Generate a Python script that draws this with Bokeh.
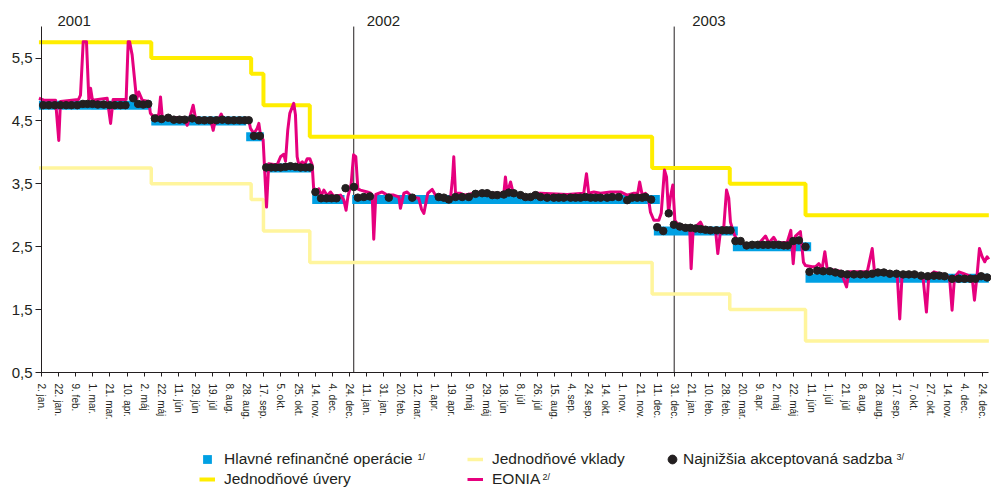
from bokeh.plotting import figure
from bokeh.models import (FixedTicker, CustomJSTickFormatter, Label, Legend,
                          LegendItem, Range1d)
from bokeh.embed import file_html
from bokeh.resources import INLINE

# ---------------- data ----------------
tick_labels = [
    "2. jan.", "22. jan.", "9. feb.", "1. mar.", "21. mar.", "10. apr.", "2. máj", "22. máj",
    "11. jún", "29. jún", "19. júl", "8. aug.", "28. aug.", "17. sep.", "5. okt.", "25. okt.",
    "14. nov.", "4. dec.", "24. dec.",
    "11. jan.", "31. jan.", "20. feb.", "12. mar.", "1. apr.", "19. apr.", "9. máj", "29. máj",
    "18. jún", "8. júl", "26. júl", "15. aug.", "4. sep.", "24. sep.", "14. okt.", "1. nov.",
    "21. nov.", "11. dec.", "31. dec.",
    "21. jan.", "10. feb.", "28. feb.", "20. mar.", "9. apr.", "2. máj", "22. máj", "11. jún",
    "1. júl", "21. júl", "8. aug.", "28. aug.", "17. sep.", "7. okt.", "27. okt.", "14. nov.",
    "4. dec.", "24. dec.",
]
y_ticks = [0.5, 1.5, 2.5, 3.5, 4.5, 5.5]
y_axis_bounds = (0.5, 6.0)

years = ["2001", "2002", "2003"]
year_start = [0.0, 18.26, 37.0]

# standing facilities (step changes)
rate_change = [-0.15, 6.42, 12.26, 12.98, 15.69, 35.71, 40.25, 44.68, 55.4]
lending_rate = [5.75, 5.50, 5.25, 4.75, 4.25, 3.75, 3.50, 3.00, 3.00]
deposit_rate = [3.75, 3.50, 3.25, 2.75, 2.25, 1.75, 1.50, 1.00, 1.00]

# main refinancing operations rate
mro_start = [-0.15, 6.42, 11.97, 13.00, 15.83, 18.17, 35.81, 40.43, 44.68]
mro_end = [6.42, 11.97, 13.00, 15.83, 17.72, 36.16, 40.72, 45.01, 55.4]
mro_rate = [4.75, 4.50, 4.25, 3.75, 3.25, 3.25, 2.75, 2.50, 2.00]

# EONIA
eonia_pos = [
    -0.15, 0.14, 0.82, 1.01, 1.11, 2.16, 2.28, 2.44, 2.63, 2.77,
    2.87, 2.98, 3.84, 4.04, 4.19, 4.95, 5.07, 5.15, 5.30, 5.56,
    5.69, 5.89, 6.27, 6.37, 6.57, 6.86, 6.96, 7.06, 8.32, 8.52,
    8.67, 8.87, 9.00, 9.30, 9.88, 10.04, 10.18, 10.37, 10.51, 10.63,
    12.12, 12.22, 12.42, 12.61, 12.71, 12.81, 12.96, 13.16, 13.29, 13.78,
    13.98, 14.17, 14.27, 14.40, 14.52, 14.75, 14.85, 14.95, 15.05, 15.25,
    15.38, 15.54, 15.69, 15.83, 15.92, 16.08, 16.22, 16.36, 16.51, 16.71,
    16.90, 17.09, 17.49, 17.68, 17.81, 17.92, 18.11, 18.25, 18.38, 18.50,
    18.65, 19.05, 19.25, 19.34, 19.43, 19.55, 19.92, 20.22, 20.60, 20.90,
    20.99, 21.19, 21.38, 21.68, 22.06, 22.22, 22.36, 22.59, 22.85, 23.04,
    23.33, 23.72, 23.92, 24.04, 24.11, 24.21, 24.50, 24.70, 25.28, 25.67,
    26.06, 26.84, 27.04, 27.13, 27.23, 27.43, 27.59, 28.01, 28.40, 28.50,
    28.79, 29.18, 30.74, 31.71, 31.87, 32.00, 32.30, 32.69, 33.27, 33.86,
    34.25, 34.64, 34.87, 34.98, 35.13, 35.32, 35.51, 35.61, 35.81, 36.10,
    36.24, 36.43, 36.55, 36.67, 36.78, 36.92, 37.04, 37.17, 37.76, 37.91,
    37.99, 38.11, 38.54, 38.73, 39.42, 39.55, 39.71, 39.90, 40.06, 40.19,
    40.29, 40.49, 40.68, 40.88, 41.95, 42.34, 42.53, 42.82, 43.02, 43.61,
    43.82, 43.96, 44.09, 44.38, 44.56, 44.68, 45.07, 45.26, 45.46, 45.65,
    45.81, 45.95, 46.33, 46.73, 47.08, 47.21, 47.70, 48.29, 48.58, 48.71,
    49.06, 49.65, 50.04, 50.19, 50.33, 50.78, 51.35, 51.56, 51.75, 51.89,
    52.19, 52.57, 52.96, 53.11, 53.25, 53.39, 53.65, 53.94, 54.23, 54.42,
    54.56, 54.72, 54.85, 55.01, 55.16, 55.30, 55.40,
]
eonia_rate = [
    4.86, 4.83, 4.83, 4.19, 4.81, 4.84, 4.91, 5.76, 5.76, 4.83,
    5.02, 4.83, 4.86, 4.46, 4.84, 4.84, 5.76, 5.76, 5.55, 4.84,
    4.96, 4.83, 4.81, 4.62, 4.56, 4.60, 4.88, 4.56, 4.55, 4.43,
    4.55, 4.75, 4.55, 4.54, 4.53, 4.35, 4.53, 4.53, 4.61, 4.53,
    4.52, 4.38, 4.30, 4.38, 4.46, 4.27, 4.20, 3.13, 3.82, 3.80,
    3.93, 3.97, 3.86, 4.35, 4.62, 4.78, 4.60, 3.93, 3.80, 3.85,
    3.80, 3.90, 3.90, 3.80, 3.40, 3.35, 3.42, 3.31, 3.40, 3.31,
    3.37, 3.30, 3.32, 3.24, 3.08, 3.30, 3.50, 3.96, 3.93, 3.42,
    3.40, 3.37, 3.35, 3.32, 2.62, 3.33, 3.37, 3.32, 3.32, 3.29,
    3.11, 3.35, 3.37, 3.29, 3.27, 3.10, 3.03, 3.35, 3.41, 3.32,
    3.29, 3.26, 3.27, 3.60, 3.93, 3.35, 3.35, 3.32, 3.35, 3.37,
    3.35, 3.35, 3.35, 3.61, 3.35, 3.53, 3.35, 3.32, 3.30, 3.26,
    3.35, 3.35, 3.33, 3.35, 3.66, 3.35, 3.37, 3.35, 3.37, 3.37,
    3.32, 3.35, 3.35, 3.53, 3.32, 3.35, 3.24, 3.05, 2.92, 2.92,
    3.03, 3.72, 3.61, 3.03, 3.29, 3.48, 2.92, 2.87, 2.81, 2.76,
    2.15, 2.78, 2.89, 2.78, 2.76, 2.39, 2.76, 2.81, 3.40, 3.27,
    2.89, 2.71, 2.60, 2.55, 2.55, 2.67, 2.56, 2.65, 2.56, 2.57,
    2.76, 2.23, 2.67, 2.74, 2.25, 2.20, 2.18, 2.18, 2.23, 2.15,
    2.42, 2.14, 2.13, 2.11, 1.86, 2.10, 2.10, 2.10, 2.47, 2.11,
    2.10, 2.10, 2.07, 1.35, 2.07, 2.07, 2.04, 1.99, 1.46, 2.04,
    2.10, 2.07, 2.04, 1.99, 1.49, 2.01, 2.10, 2.07, 2.04, 2.02,
    1.65, 2.07, 2.47, 2.34, 2.26, 2.34, 2.30,
]

# lowest accepted (marginal) rate of the weekly tenders
tender_pos = [
    0.10, 0.43, 0.78, 1.11, 1.44, 1.75, 2.09, 2.42, 2.69, 2.98,
    3.29, 3.64, 3.98, 4.29, 4.62, 4.91, 5.36, 5.65, 5.95, 6.24,
    6.63, 7.02, 7.41, 7.74, 8.07, 8.38, 8.81, 9.20, 9.53, 9.88,
    10.23, 10.57, 10.92, 11.25, 11.58, 11.89, 12.12, 12.42, 12.77,
    13.14, 13.43, 13.68, 13.98, 14.27, 14.56, 14.85, 15.15, 15.44, 15.69,
    16.02, 16.35, 16.67, 16.96, 17.25, 17.78, 18.27, 18.50, 18.85, 19.20,
    20.31, 21.68,
    23.23, 23.53, 23.82, 24.21, 24.60, 24.99, 25.38, 25.77, 26.06, 26.36,
    26.65, 27.04, 27.33, 27.62, 28.01, 28.30, 28.60, 28.89, 29.18, 29.57,
    29.96, 30.25, 30.54, 30.94, 31.23, 31.52, 31.81, 32.11, 32.40, 32.69,
    33.08, 33.37, 33.76, 34.25, 34.54, 34.84, 35.13, 35.32, 35.65,
    36.01, 36.36, 36.68, 36.98, 37.33, 37.66, 37.95, 38.25, 38.54, 38.83,
    39.12, 39.47, 39.81, 40.06, 40.29,
    40.58, 40.88, 41.23, 41.56, 41.89, 42.20, 42.49, 42.82, 43.12, 43.41,
    43.64, 43.96, 44.29, 44.68,
    44.91, 45.36, 45.71, 46.10, 46.43, 46.77, 47.12, 47.51, 47.89, 48.25,
    48.58, 48.91, 49.26, 49.61, 50.00, 50.39, 50.72, 51.05, 51.44, 51.83,
    52.19, 52.51, 52.81, 53.25, 53.64, 53.98, 54.33, 54.62, 54.95, 55.30,
]
tender_rate = [
    4.75, 4.75, 4.75, 4.75, 4.75, 4.75, 4.75, 4.77, 4.77, 4.77,
    4.76, 4.76, 4.75, 4.75, 4.75, 4.75, 4.86, 4.77, 4.76, 4.77,
    4.54, 4.53, 4.55, 4.52, 4.52, 4.52, 4.54, 4.51, 4.51, 4.51,
    4.51, 4.52, 4.51, 4.51, 4.51, 4.51, 4.51, 4.26, 4.26,
    3.76, 3.76, 3.76, 3.76, 3.77, 3.78, 3.77, 3.76, 3.76, 3.76,
    3.37, 3.27, 3.27, 3.27, 3.27, 3.43, 3.45, 3.28, 3.29, 3.30,
    3.28, 3.28,
    3.29, 3.28, 3.25, 3.29, 3.29, 3.29, 3.34, 3.35, 3.35, 3.32,
    3.32, 3.33, 3.36, 3.35, 3.32, 3.29, 3.29, 3.32, 3.29, 3.28,
    3.28, 3.28, 3.28, 3.28, 3.28, 3.28, 3.29, 3.28, 3.28, 3.28,
    3.28, 3.29, 3.29, 3.24, 3.28, 3.28, 3.28, 3.29, 3.25,
    2.81, 2.75, 3.03, 2.85, 2.82, 2.80, 2.80, 2.79, 2.78, 2.77,
    2.76, 2.76, 2.76, 2.76, 2.76,
    2.59, 2.59, 2.52, 2.53, 2.53, 2.53, 2.53, 2.53, 2.53, 2.52,
    2.52, 2.59, 2.60, 2.50,
    2.10, 2.12, 2.11, 2.11, 2.09, 2.07, 2.06, 2.06, 2.06, 2.06,
    2.07, 2.09, 2.09, 2.07, 2.07, 2.06, 2.06, 2.06, 2.04, 2.03,
    2.04, 2.04, 2.03, 1.99, 1.99, 1.99, 1.99, 1.99, 2.03, 2.01,
]

# ---------------- style / layout ----------------
FONT = "Liberation Sans"
TEXT = "#231f20"
BLUE = "#00a0e3"
YELLOW = "#ffed00"
LIGHT_YELLOW = "#fff59d"
PINK = "#e6007e"
DOT = "#231f20"

W, H = 991, 488
AX_LEFT_PX, AX_BOTTOM_PX = 41.0, 372.0     # where the axes cross on the page
PX_PER_TICK, PX_PER_UNIT = 17.1, 62.9

# the frame covers the whole canvas; the axes are pinned inside it
x_range = Range1d(-AX_LEFT_PX / PX_PER_TICK, (W - AX_LEFT_PX) / PX_PER_TICK)
y_range = Range1d(y_axis_bounds[0] - (H - AX_BOTTOM_PX) / PX_PER_UNIT,
                  y_axis_bounds[0] + AX_BOTTOM_PX / PX_PER_UNIT)

p = figure(width=W, height=H, x_range=x_range, y_range=y_range,
           output_backend="svg", toolbar_location=None,
           min_border=0, min_border_left=0, min_border_right=0,
           min_border_top=0, min_border_bottom=0)
p.outline_line_color = None
p.grid.visible = False
p.background_fill_color = "white"
p.border_fill_color = "white"

# x axis
xa = p.xaxis[0]
xa.fixed_location = y_axis_bounds[0]
xa.bounds = (rate_change[0], rate_change[-1])
xa.ticker = FixedTicker(ticks=list(range(len(tick_labels))))
xa.major_label_overrides = {i: t for i, t in enumerate(tick_labels)}
xa.major_label_orientation = "vertical"
xa.minor_tick_line_color = None
xa.major_tick_in = 0
xa.major_tick_out = 4
xa.major_label_standoff = 7
xa.axis_line_color = TEXT
xa.major_tick_line_color = TEXT
xa.major_label_text_font = FONT
xa.major_label_text_font_size = "10px"
xa.major_label_text_color = TEXT

# y axis
ya = p.yaxis[0]
ya.fixed_location = 0
ya.bounds = y_axis_bounds
ya.ticker = FixedTicker(ticks=y_ticks)
ya.formatter = CustomJSTickFormatter(code="return tick.toFixed(1).replace('.', ',')")
ya.minor_tick_line_color = None
ya.major_tick_in = 0
ya.major_tick_out = 6
ya.major_label_standoff = 3
ya.axis_line_color = TEXT
ya.major_tick_line_color = TEXT
ya.major_label_text_font = FONT
ya.major_label_text_font_size = "15px"
ya.major_label_text_color = TEXT

# year separators and labels
p.segment(x0=year_start[1:], x1=year_start[1:],
          y0=[y_axis_bounds[0]] * 2, y1=[y_axis_bounds[1]] * 2,
          line_color=TEXT, line_width=1)
year_offset = [16, 13, 18]
for i, yr in enumerate(years):
    p.add_layout(Label(x=year_start[i], y=y_axis_bounds[1], text=yr,
                       x_offset=year_offset[i], y_offset=6,
                       text_font=FONT, text_font_size="15px", text_color=TEXT,
                       text_baseline="alphabetic"))

# series
r_dep = p.step(rate_change, deposit_rate, mode="after", line_color=LIGHT_YELLOW, line_width=3.5)
r_lend = p.step(rate_change, lending_rate, mode="after", line_color=YELLOW, line_width=4)
p.segment(x0=mro_start, y0=mro_rate, x1=mro_end, y1=mro_rate,
          line_color=BLUE, line_width=9, line_cap="butt")
mro_mid = [(a + b) / 2 for a, b in zip(mro_start, mro_end)]
r_mro_key = p.scatter(x=mro_mid, y=mro_rate, marker="square", size=8,
                      color=BLUE, line_color=None)
r_eonia = p.line(eonia_pos, eonia_rate, line_color=PINK, line_width=3, line_join="round")
r_dots = p.scatter(tender_pos, tender_rate, size=7.5, color=DOT)


def add_key(label, renderer, left_px, center_px, gw, standoff):
    leg = Legend(items=[LegendItem(label=label, renderers=[renderer])],
                 location=(left_px, H - center_px - 11), orientation="horizontal",
                 padding=0, margin=0, spacing=0,
                 border_line_color=None, background_fill_alpha=0,
                 glyph_width=gw, glyph_height=22, label_height=22,
                 label_standoff=standoff,
                 label_text_font=FONT, label_text_font_size="15.5px",
                 label_text_color=TEXT)
    p.add_layout(leg)


ROW1, ROW2 = 459, 479
add_key("Hlavné refinančné operácie", r_mro_key, 196, ROW1, 22, 6)
add_key("Jednodňové vklady", r_dep, 467, ROW1, 16, 9)
add_key("Najnižšia akceptovaná sadzba", r_dots, 661, ROW1, 22, 0)
add_key("Jednodňové úvery", r_lend, 199, ROW2, 16, 9)
add_key("EONIA", r_eonia, 467, ROW2, 16, 9)

# footnote marks
notes = ["1/", "2/", "3/"]
note_x = [417, 542, 896]
note_top = [ROW1 - 8, ROW2 - 8, ROW1 - 8]
for t, nx, ny in zip(notes, note_x, note_top):
    p.add_layout(Label(x=nx, y=H - ny, x_units="screen", y_units="screen", text=t,
                       text_font=FONT, text_font_size="9px", text_color=TEXT,
                       text_baseline="top"))

open("out.html", "w").write(file_html(p, INLINE))
